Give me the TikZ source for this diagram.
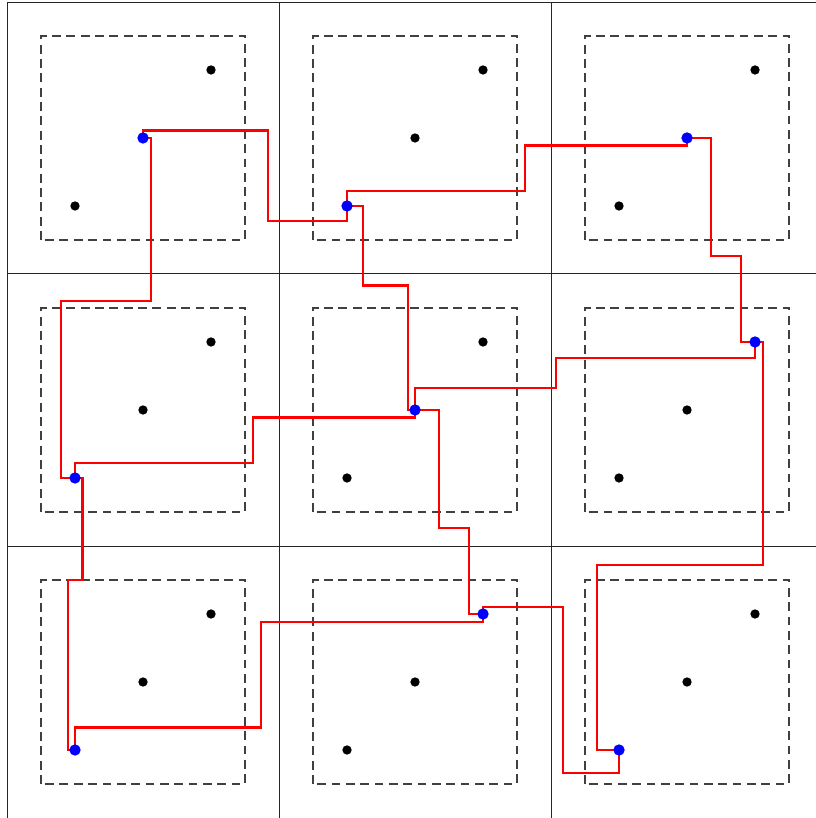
\documentclass[tikz,border=0pt]{standalone}
\usetikzlibrary{calc}

\begin{document}
\begin{tikzpicture}[x=1cm, y=1cm,
  cell/.style={black!85, line width=0.4pt},
  zone/.style={black!75, line width=0.5pt, dash pattern=on 3.7pt off 2.3pt},
  route/.style={red, line width=0.9pt},
  pt/.style={circle, fill=black, inner sep=0pt, minimum size=0.137cm},
  sel/.style={circle, fill=blue, inner sep=0pt, minimum size=0.167cm}]
  \useasboundingbox (-0.103,0) rectangle (11.882,12.029);

  % 3x3 cells, each with a dashed inner square
  \draw[cell] (0,0) grid[step=4] (12,12);
  \foreach \i in {0,1,2}
    \foreach \j in {0,1,2}
      \draw[zone] (4*\i+0.5,4*\j+0.5) rectangle ++(3,3);

  % three candidates per cell, on the diagonal
  \foreach \i in {0,1,2}
    \foreach \j in {0,1,2}
      \foreach \k in {1,2,3}
        \node[pt] (d\i\j\k) at (4*\i+\k,4*\j+\k) {};

  % chosen points
  \coordinate (P1) at (2,10);
  \coordinate (P2) at (5,9);
  \coordinate (P3) at (10,10);
  \coordinate (P4) at (1,5);
  \coordinate (P5) at (6,6);
  \coordinate (P6) at (11,7);
  \coordinate (P7) at (1,1);
  \coordinate (P8) at (7,3);
  \coordinate (P9) at (9,1);

  % rectilinear routes
  \draw[route] (P1) -- ++(0,0.11) -| (3.84,8.78) -| (P2);
  \draw[route] (P1) -- ++(0.12,0) |- (0.79,7.60) |- (P4);
  \draw[route] (P2) -- ++(0,0.22) -| (7.62,9.89) -| (P3);
  \draw[route] (P3) -- ++(0.35,0) |- (10.79,8.27) |- (P6);
  \draw[route] (P2) -- ++(0.23,0) |- (5.90,7.83) |- (P5);
  \draw[route] (P5) -- ++(0,0.32) -| (8.07,6.77) -| (P6);
  \draw[route] (P5) -- ++(0,-0.11) -| (3.62,5.22) -| (P4);
  \draw[route] (P4) -- ++(0.11,0) |- (0.90,3.50) |- (P7);
  \draw[route] (P7) -- ++(0,0.33) -| (3.73,2.88) -| (P8);
  \draw[route] (P5) -- ++(0.35,0) |- (6.79,4.27) |- (P8);
  \draw[route] (P8) -- ++(0,0.10) -| (8.18,0.66) -| (P9);
  \draw[route] (P9) -- ++(-0.32,0) |- (11.12,3.72) |- (P6);

  \foreach \n in {1,...,9}
    \node[sel] (b\n) at (P\n) {};
\end{tikzpicture}
\end{document}
